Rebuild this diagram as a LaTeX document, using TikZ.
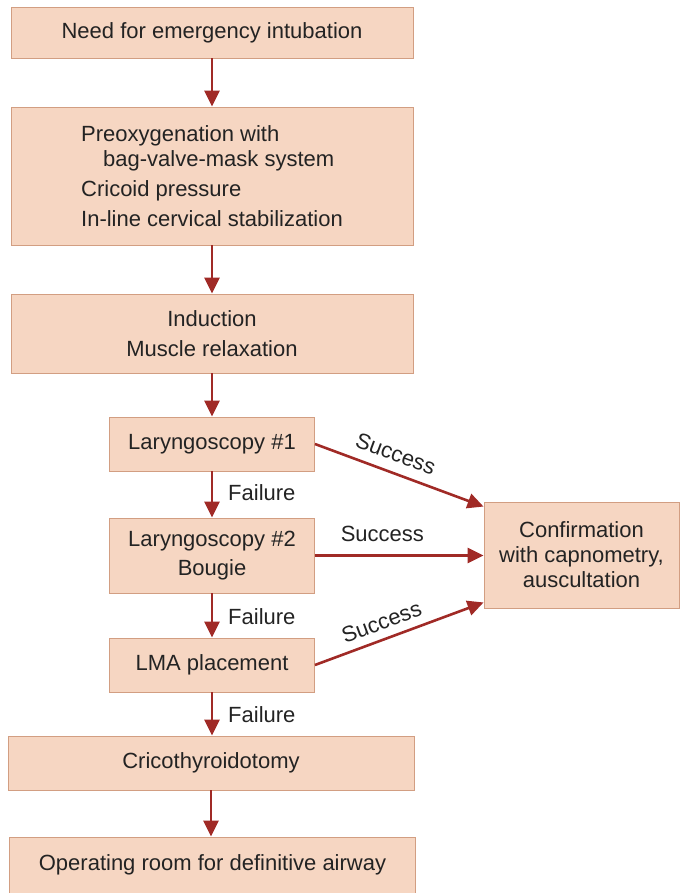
\documentclass[tikz,border=0pt]{standalone}
\usepackage{fontspec}
\setmainfont{Liberation Sans}
\usetikzlibrary{arrows.meta}
\definecolor{boxfill}{RGB}{246,214,194}
\definecolor{boxdraw}{RGB}{210,158,130}
\definecolor{arrowred}{RGB}{160,42,38}
\definecolor{txt}{RGB}{35,35,35}
\begin{document}
\begin{tikzpicture}[x=1pt,y=-1pt,
  box/.style={draw=boxdraw, fill=boxfill, line width=0.9pt, inner sep=0pt, align=center, text=txt, font=\fontsize{22}{25}\selectfont},
  arr/.style={draw=arrowred, line width=2.6pt, -{Triangle[length=16pt,width=15pt]}},
  lbl/.style={text=txt, font=\fontsize{22}{25}\selectfont, inner sep=0pt}]
\useasboundingbox (0,0) rectangle (680,893);
\node[box, minimum width=402pt, minimum height=51pt] (n1) at (212,32.5) {Need for emergency intubation};
\node[box, minimum width=402pt, minimum height=138pt, align=left] (n2) at (212,176) {Preoxygenation with\\ \hspace*{22pt}bag-valve-mask system\\[5pt] Cricoid pressure\\[5pt] In-line cervical stabilization};
\node[box, minimum width=402pt, minimum height=79pt] (n3) at (212,333.5) {Induction\\[5pt] Muscle relaxation};
\node[box, minimum width=205pt, minimum height=54pt] (l1) at (212,444) {Laryngoscopy \#1};
\node[box, minimum width=205pt, minimum height=75pt] (l2) at (212,555.5) {Laryngoscopy \#2\\[4pt] Bougie};
\node[box, minimum width=205pt, minimum height=54pt] (lma) at (212,665) {LMA placement};
\node[box, minimum width=406pt, minimum height=54pt] (cr) at (211,763) {Cricothyroidotomy};
\node[box, minimum width=406pt, minimum height=56pt] (op) at (212.5,865) {Operating room for definitive airway};
\node[box, minimum width=195pt, minimum height=106pt] (conf) at (581.5,555) {Confirmation\\ with capnometry,\\ auscultation};

\draw[arr] (n1) -- (n2);
\draw[arr] (n2) -- (n3);
\draw[arr] (n3) -- (l1);
\draw[arr] (l1) -- (l2);
\draw[arr] (l2) -- (lma);
\draw[arr] (lma.south) -- (lma.south |- cr.north);
\draw[arr] (cr.south) -- (cr.south |- op.north);

\node[lbl, anchor=west] (f1) at (228,493) {Failure};
\node[lbl, anchor=west] (f2) at (228,617) {Failure};
\node[lbl, anchor=west] (f3) at (228,715) {Failure};

\draw[arr] (l1.east) -- ([yshift=-5pt]conf.north west) node[lbl, pos=0.44, sloped, above=10pt] (s1) {Success};
\draw[arr] (l2.east) -- (l2.east -| conf.west) node[lbl, pos=0.4, above=12pt] (s2) {Success};
\draw[arr] (lma.east) -- ([yshift=6pt]conf.south west) node[lbl, pos=0.43, sloped, above=8pt] (s3) {Success};
\end{tikzpicture}
\end{document}
